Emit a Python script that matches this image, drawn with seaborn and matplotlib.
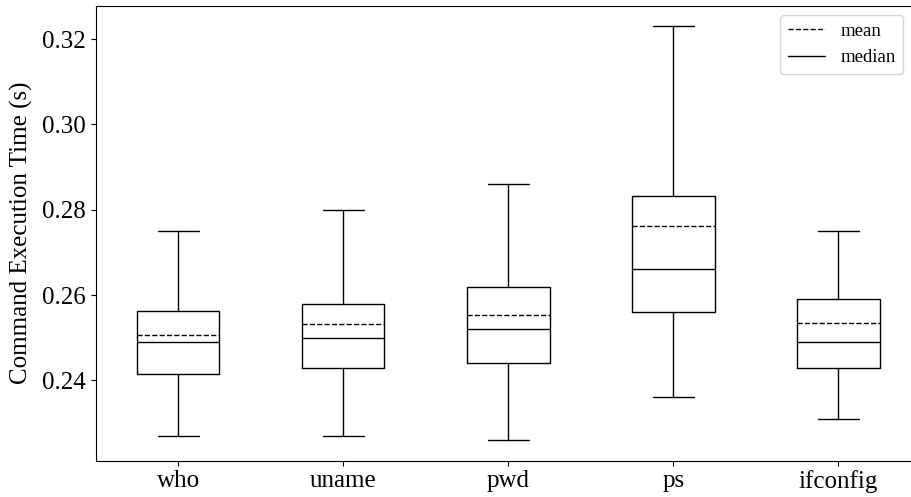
import matplotlib
matplotlib.use('Agg')
import matplotlib.pyplot as plt
from matplotlib.lines import Line2D
import seaborn as sns

# Сводная статистика по командам
commands = ['who', 'uname', 'pwd', 'ps', 'ifconfig']
whisker_low = [0.227, 0.227, 0.226, 0.236, 0.231]
q1 = [0.2415, 0.243, 0.244, 0.256, 0.243]
medians = [0.249, 0.250, 0.252, 0.266, 0.249]
means = [0.2507, 0.2533, 0.2554, 0.2762, 0.2534]
q3 = [0.2562, 0.258, 0.262, 0.2832, 0.259]
whisker_high = [0.275, 0.280, 0.286, 0.323, 0.275]

sns.set_style('ticks', {'axes.edgecolor': 'black', 'xtick.color': 'black',
                        'ytick.color': 'black', 'text.color': 'black',
                        'axes.labelcolor': 'black'})
plt.rcParams['font.family'] = ['Liberation Serif', 'DejaVu Serif']

stats = []
for i, name in enumerate(commands):
    stats.append({
        'label': name,
        'whislo': whisker_low[i],
        'q1': q1[i],
        'med': medians[i],
        'mean': means[i],
        'q3': q3[i],
        'whishi': whisker_high[i],
        'fliers': [],
    })

fig = plt.figure(figsize=(9.12, 4.97), dpi=100)
# правый край осей уходит за рамку картинки, как в оригинале
ax = fig.add_axes([95.7 / 912, (497 - 460.7) / 497, (920.8 - 95.7) / 912, (460.7 - 5.7) / 497])

line_props = dict(color='black', linewidth=1.0)
ax.bxp(stats, showmeans=True, meanline=True, showfliers=False, widths=0.5,
       boxprops=line_props, whiskerprops=line_props, capprops=line_props,
       medianprops=dict(color='black', linewidth=1.0, linestyle='-'),
       meanprops=dict(color='black', linewidth=1.0, linestyle='--'))

ax.set_xlim(0.5, 5.5)
ax.margins(y=0.05)
ax.autoscale(axis='y')
ax.set_ylabel('Command Execution Time (s)', fontsize=18, labelpad=7)
ax.tick_params(axis='both', labelsize=18, length=3.5, width=0.8)
for s in ax.spines.values():
    s.set_linewidth(0.8)

handles = [Line2D([], [], color='black', linestyle='--', linewidth=1.0, label='mean'),
           Line2D([], [], color='black', linestyle='-', linewidth=1.0, label='median')]
fig.legend(handles=handles, loc='upper right', bbox_to_anchor=(903 / 912, 1 - 15 / 497),
           borderaxespad=0, fontsize=13.5)

fig.savefig('out.png', dpi=100)
